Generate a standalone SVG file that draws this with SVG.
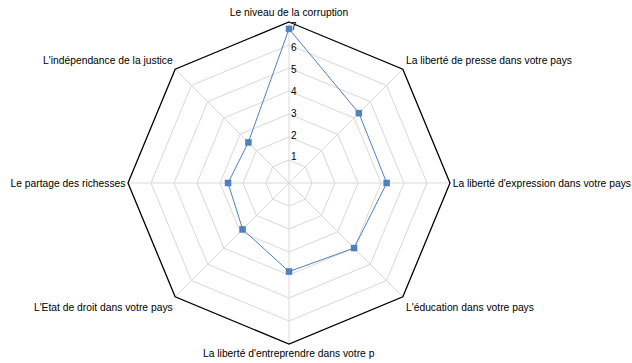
<svg xmlns="http://www.w3.org/2000/svg" width="632" height="363" viewBox="0 0 632 363">
<style>
.grid{fill:none;stroke:#d9d9d9;stroke-width:1}
.outer{fill:none;stroke:#000;stroke-width:1.3}
.lbl{font-family:"Liberation Sans",Arial,sans-serif;font-size:10.3px;fill:#000}
.tick{font-family:"Liberation Sans",Arial,sans-serif;font-size:10px;fill:#000}
.series{fill:none;stroke:#4f81bd;stroke-width:1}
.mk{fill:#4f81bd;stroke:#4a7ebb;stroke-width:0.5}
</style>
<rect width="632" height="363" fill="#fff"/>
<g id="grid">
<polygon class="grid" points="289,160 305.26,166.74 312,183 305.26,199.26 289,206 272.74,199.26 266,183 272.74,166.74"/>
<polygon class="grid" points="289,137 321.53,150.47 335,183 321.53,215.53 289,229 256.47,215.53 243,183 256.47,150.47"/>
<polygon class="grid" points="289,114 337.79,134.21 358,183 337.79,231.79 289,252 240.21,231.79 220,183 240.21,134.21"/>
<polygon class="grid" points="289,91 354.05,117.95 381,183 354.05,248.05 289,275 223.95,248.05 197,183 223.95,117.95"/>
<polygon class="grid" points="289,68 370.32,101.68 404,183 370.32,264.32 289,298 207.68,264.32 174,183 207.68,101.68"/>
<polygon class="grid" points="289,45 386.58,85.42 427,183 386.58,280.58 289,321 191.42,280.58 151,183 191.42,85.42"/>
<path class="grid" d="M289,183L289,22M289,183L402.84,69.16M289,183L450,183M289,183L402.84,296.84M289,183L289,344M289,183L175.16,296.84M289,183L128,183M289,183L175.16,69.16"/>
<polygon class="outer" points="289,22 402.84,69.16 450,183 402.84,296.84 289,344 175.16,296.84 128,183 175.16,69.16"/>
</g>
<g id="ticks">
<text class="tick" x="291" y="160.3">1</text>
<text class="tick" x="291" y="138.5">2</text>
<text class="tick" x="291" y="116.7">3</text>
<text class="tick" x="291" y="94.9">4</text>
<text class="tick" x="291" y="73.1">5</text>
<text class="tick" x="291" y="51.3">6</text>
<text class="tick" x="291" y="29.5">7</text>
</g>
<g id="labels">
<text class="lbl" x="289" y="16" text-anchor="middle">Le niveau de la corruption</text>
<text class="lbl" x="406" y="63.5">La liberté de presse dans votre pays</text>
<text class="lbl" x="452.7" y="187">La liberté d'expression dans votre pays</text>
<text class="lbl" x="406" y="310.5">L'éducation dans votre pays</text>
<text class="lbl" x="203" y="356.5">La liberté d'entreprendre dans votre p</text>
<text class="lbl" x="172.7" y="310.5" text-anchor="end">L'Etat de droit dans votre pays</text>
<text class="lbl" x="125.5" y="187" text-anchor="end">Le partage des richesses</text>
<text class="lbl" x="172.7" y="63.5" text-anchor="end">L'indépendance de la justice</text>
</g>
<g id="series">
<polygon class="series" points="289,28.9 358.9,113.1 386.75,183 354.05,248.05 289,271.55 242.65,229.35 228.05,183 248.34,142.34"/>
<rect class="mk" x="286" y="25.9" width="6" height="6"/>
<rect class="mk" x="355.9" y="110.1" width="6" height="6"/>
<rect class="mk" x="383.75" y="180" width="6" height="6"/>
<rect class="mk" x="351.05" y="245.05" width="6" height="6"/>
<rect class="mk" x="286" y="268.55" width="6" height="6"/>
<rect class="mk" x="239.65" y="226.35" width="6" height="6"/>
<rect class="mk" x="225.05" y="180" width="6" height="6"/>
<rect class="mk" x="245.34" y="139.34" width="6" height="6"/>
</g>
</svg>
